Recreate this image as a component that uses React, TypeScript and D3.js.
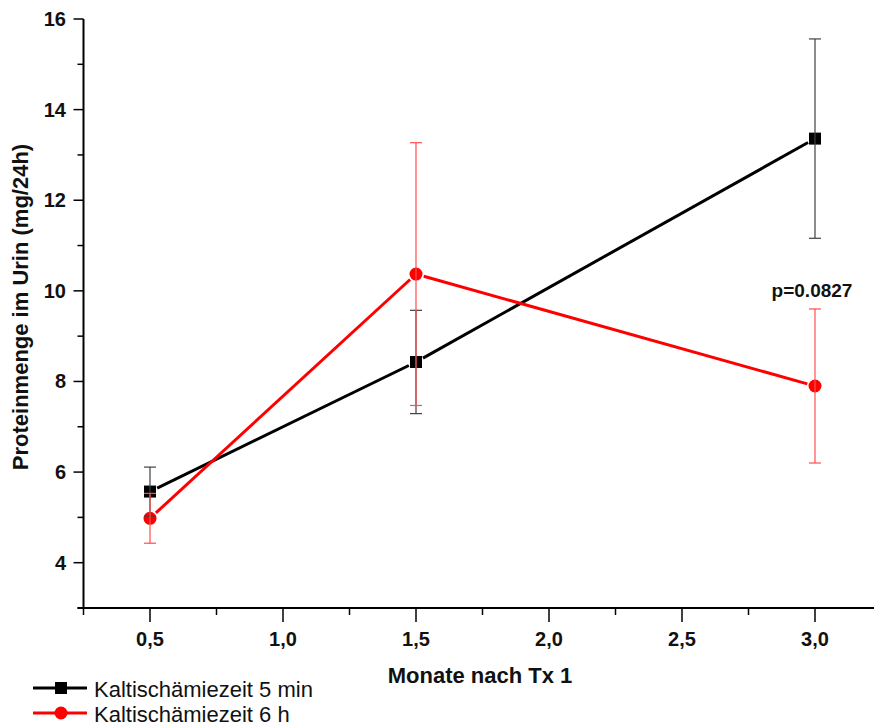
import React from 'react';
import * as d3 from 'd3';

const months = [0.5, 1.5, 3.0];
const mean5min = [5.57, 8.43, 13.36];
const err5min = [0.54, 1.14, 2.2];
const mean6h = [4.98, 10.37, 7.9];
const err6h = [0.55, 2.9, 1.7];
const xMajorTicks = [0.5, 1.0, 1.5, 2.0, 2.5, 3.0];
const xTickLabels = ['0,5', '1,0', '1,5', '2,0', '2,5', '3,0'];
const xMinorTicks = [0.25, 0.75, 1.25, 1.75, 2.25, 2.75, 3.25];
const yMajorTicks = [4, 6, 8, 10, 12, 14, 16];
const yMinorTicks = [3, 5, 7, 9, 11, 13, 15];
const seriesNames = ['Kaltischämiezeit 5 min', 'Kaltischämiezeit 6 h'];
const xTitle = 'Monate nach Tx 1';
const yTitle = 'Proteinmenge im Urin (mg/24h)';
const pLabel = 'p=0.0827';

const W = 874;
const H = 727;
const FONT = '"Liberation Sans", Arial, sans-serif';

export default function App() {
  const xs = d3.scaleLinear().domain([0.25, 3.25]).range([83.5, 881.5]);
  const ys = d3.scaleLinear().domain([3, 16]).range([608, 19]);
  const x0 = xs(0.25);
  const yBottom = ys(3);

  const series = [
    { mean: mean5min, err: err5min, color: '#000000', errColor: '#404040', marker: 'square' },
    { mean: mean6h, err: err6h, color: '#ff0000', errColor: '#ff4d4d', marker: 'circle' },
  ];

  const gap = 8;
  const segments = (mean: number[]) => {
    const pts = months.map((m, i) => [xs(m), ys(mean[i])]);
    const segs: number[][] = [];
    for (let i = 0; i < pts.length - 1; i++) {
      const [ax, ay] = pts[i];
      const [bx, by] = pts[i + 1];
      const len = Math.hypot(bx - ax, by - ay);
      const ux = (bx - ax) / len;
      const uy = (by - ay) / len;
      segs.push([ax + ux * gap, ay + uy * gap, bx - ux * gap, by - uy * gap]);
    }
    return segs;
  };

  const marker = (type: string, cx: number, cy: number, color: string, key: string) =>
    type === 'square' ? (
      <rect key={key} x={cx - 6} y={cy - 6} width={12} height={12} fill={color} />
    ) : (
      <circle key={key} cx={cx} cy={cy} r={6.5} fill={color} />
    );

  return (
    <svg
      width={W}
      height={H}
      style={{ position: 'absolute', left: 0, top: 0, background: '#fff' }}
      fontFamily={FONT}
    >
      <rect width={W} height={H} fill="#fff" />
      {/* axes */}
      <line x1={x0} y1={ys(16)} x2={x0} y2={yBottom} stroke="#000" strokeWidth={2} />
      <line x1={x0 - 6} y1={yBottom} x2={W + 10} y2={yBottom} stroke="#000" strokeWidth={2} />
      {yMajorTicks.map((t) => (
        <g key={'ym' + t}>
          <line x1={x0 - 10} x2={x0} y1={ys(t)} y2={ys(t)} stroke="#000" strokeWidth={1.5} />
          <text x={66} y={ys(t) + 7} textAnchor="end" fontSize={20} fontWeight="bold" fill="#111">
            {t}
          </text>
        </g>
      ))}
      {yMinorTicks.map((t) => (
        <line key={'yn' + t} x1={x0 - 6} x2={x0} y1={ys(t)} y2={ys(t)} stroke="#000" strokeWidth={1.5} />
      ))}
      {xMajorTicks.map((t, i) => (
        <g key={'xm' + t}>
          <line x1={xs(t)} x2={xs(t)} y1={yBottom} y2={yBottom + 14} stroke="#000" strokeWidth={1.5} />
          <text x={xs(t)} y={646} textAnchor="middle" fontSize={20} fontWeight="bold" fill="#111">
            {xTickLabels[i]}
          </text>
        </g>
      ))}
      {xMinorTicks.map((t) => (
        <line key={'xn' + t} x1={xs(t)} x2={xs(t)} y1={yBottom} y2={yBottom + 7} stroke="#000" strokeWidth={1.5} />
      ))}
      <text x={480} y={683} textAnchor="middle" fontSize={22} fontWeight="bold" fill="#111">
        {xTitle}
      </text>
      <text
        transform={`translate(28, 307) rotate(-90)`}
        textAnchor="middle"
        fontSize={22}
        fontWeight="bold"
        fill="#111"
      >
        {yTitle}
      </text>

      {/* lines */}
      {series.map((s, si) =>
        segments(s.mean).map((sg, i) => (
          <line
            key={'seg' + si + i}
            x1={sg[0]}
            y1={sg[1]}
            x2={sg[2]}
            y2={sg[3]}
            stroke={s.color}
            strokeWidth={3}
          />
        ))
      )}
      {/* markers */}
      {series.map((s, si) =>
        months.map((m, i) => marker(s.marker, xs(m), ys(s.mean[i]), s.color, 'mk' + si + i))
      )}
      {/* error bars */}
      {series.map((s, si) =>
        months.map((m, i) => {
          const cx = xs(m);
          const top = ys(s.mean[i] + s.err[i]);
          const bot = ys(s.mean[i] - s.err[i]);
          return (
            <g key={'eb' + si + i} stroke={s.errColor} strokeWidth={1.2}>
              <line x1={cx} x2={cx} y1={top} y2={bot} />
              <line x1={cx - 6} x2={cx + 6} y1={top} y2={top} />
              <line x1={cx - 6} x2={cx + 6} y1={bot} y2={bot} />
            </g>
          );
        })
      )}
      <text
        x={xs(3.0) - 3}
        y={ys(mean6h[2] + err6h[2]) - 12}
        textAnchor="middle"
        fontSize={19}
        fontWeight="bold"
        fill="#111"
      >
        {pLabel}
      </text>

      {/* legend */}
      {series.map((s, si) => {
        const ly = 688 + si * 25;
        return (
          <g key={'lg' + si}>
            <line x1={33} x2={87} y1={ly} y2={ly} stroke={s.color} strokeWidth={3} />
            {marker(s.marker, 61, ly, s.color, 'lm' + si)}
            <text x={94} y={ly + 9} fontSize={22} fill="#111">
              {seriesNames[si]}
            </text>
          </g>
        );
      })}
    </svg>
  );
}
